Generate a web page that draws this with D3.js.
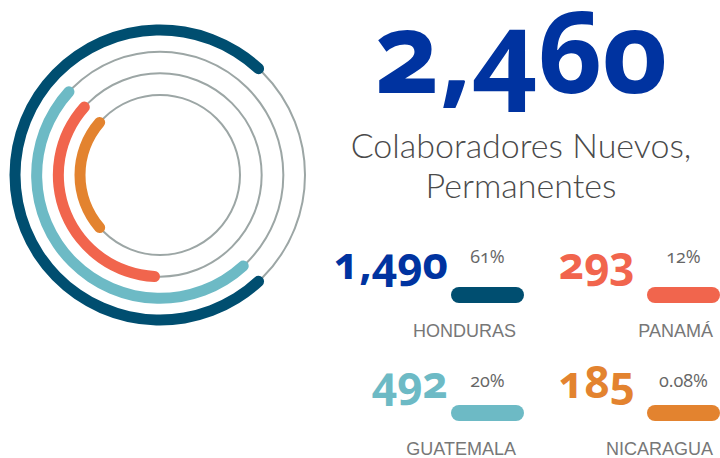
<!DOCTYPE html>
<html>

<head>
    <meta charset="utf-8">
    <style>
        body {
            margin: 0;
            background: white;
        }

        svg {
            display: block;
        }

        .num {
            font-family: 'Open Sans', sans-serif;
            font-weight: 700;
            font-variant-numeric: oldstyle-nums;
            font-feature-settings: "onum" 1;
        }

        .pct {
            font-family: 'Open Sans', sans-serif;
            font-size: 18px;
            fill: #666;
            font-variant-numeric: oldstyle-nums;
            font-feature-settings: "onum" 1;
        }

        .label {
            font-family: 'Liberation Sans', Arial, sans-serif;
            font-size: 18px;
            fill: #777;
        }

        .subtitle {
            font-family: Lato, sans-serif;
            font-weight: 300;
            font-size: 34px;
            fill: #4a4a4a;
        }
    </style>
</head>

<body>
    <svg width="720" height="458"></svg>
</body>

<script src="https://d3js.org/d3.v7.min.js"></script>

<script>
    // data
    const countries = ["HONDURAS", "GUATEMALA", "PANAMÁ", "NICARAGUA"]
    const counts = [1490, 492, 293, 185]
    const shares = ["61%", "20%", "12%", "0.08%"]
    // arcs, degrees clockwise from 12 o'clock
    const arcStart = [135, 135, 180, 225]
    const arcEnd = [405, 315, 315, 315]
    const total = 2460
    const subtitleLines = ["Colaboradores Nuevos,", "Permanentes"]

    let rows = countries.map((c, i) => ({
        country: c,
        count: counts[i],
        share: shares[i],
        start: arcStart[i],
        end: arcEnd[i],
        i: i
    }))

    let width = 720;
    let height = 458;

    let svg = d3.select("svg")

    let color = d3.scaleOrdinal()
        .domain(countries)
        .range(["#004e70", "#6dbac5", "#f1654d", "#e3832f"])

    // ring radius per country, outer ring first
    let radius = d3.scalePoint()
        .domain(countries)
        .range([145, 80])

    let angle = d3.scaleLinear()
        .domain([0, 360])
        .range([0, 2 * Math.PI])

    let rings = svg.append("g")
        .attr("transform", "translate(160,175)")

    rings.selectAll(".track")
        .data(rows)
        .join("circle")
        .attr("class", "track")
        .attr("r", d => radius(d.country))
        .style("fill", "none")
        .style("stroke", "#9ca6a5")
        .style("stroke-width", 2)

    let arc = d3.arc()
        .innerRadius(d => radius(d.country) - 5.5)
        .outerRadius(d => radius(d.country) + 5.5)
        .startAngle(d => angle(d.start))
        .endAngle(d => angle(d.end))
        .cornerRadius(5.5)

    rings.selectAll(".ring")
        .data(rows)
        .join("path")
        .attr("class", "ring")
        .attr("d", arc)
        .style("fill", d => color(d.country))

    // headline number
    svg.append("text")
        .attr("class", "num")
        .attr("x", 521)
        .attr("y", 93)
        .attr("text-anchor", "middle")
        .style("font-size", "113px")
        .style("fill", "#0033a0")
        .text(d3.format(",")(total))

    svg.selectAll(".subtitle")
        .data(subtitleLines)
        .join("text")
        .attr("class", "subtitle")
        .attr("x", 521)
        .attr("y", (d, i) => 158 + i * 40)
        .attr("text-anchor", "middle")
        .text(d => d)

    // small blocks: 2 columns x 2 rows
    let colX = [451, 647]
    let barY = [287, 405]
    let pctY = [263, 387]
    let numY = [279, 398]
    let labY = [337, 455]
    let numRight = [448, 635]
    let labRight = [516, 713]
    let barW = 73
    let barH = 16

    let blocks = svg.selectAll(".block")
        .data(rows)
        .join("g")
        .attr("class", "block")

    let col = d => d.i < 2 ? 0 : 1
    let row = d => d.i % 2

    blocks.append("rect")
        .attr("x", d => colX[col(d)])
        .attr("y", d => barY[row(d)])
        .attr("width", barW)
        .attr("height", barH)
        .attr("rx", barH / 2)
        .style("fill", d => color(d.country))

    blocks.append("text")
        .attr("class", "pct")
        .attr("x", d => colX[col(d)] + barW / 2)
        .attr("y", d => pctY[row(d)])
        .attr("text-anchor", "middle")
        .text(d => d.share)

    blocks.append("text")
        .attr("class", "num")
        .attr("x", d => numRight[col(d)])
        .attr("y", d => numY[row(d)])
        .attr("text-anchor", "end")
        .style("font-size", "44px")
        .style("fill", d => d.i == 0 ? "#0033a0" : color(d.country))
        .text(d => d3.format(",")(d.count))

    blocks.append("text")
        .attr("class", "label")
        .attr("x", d => labRight[col(d)])
        .attr("y", d => labY[row(d)])
        .attr("text-anchor", "end")
        .text(d => d.country)
</script>

</html>
